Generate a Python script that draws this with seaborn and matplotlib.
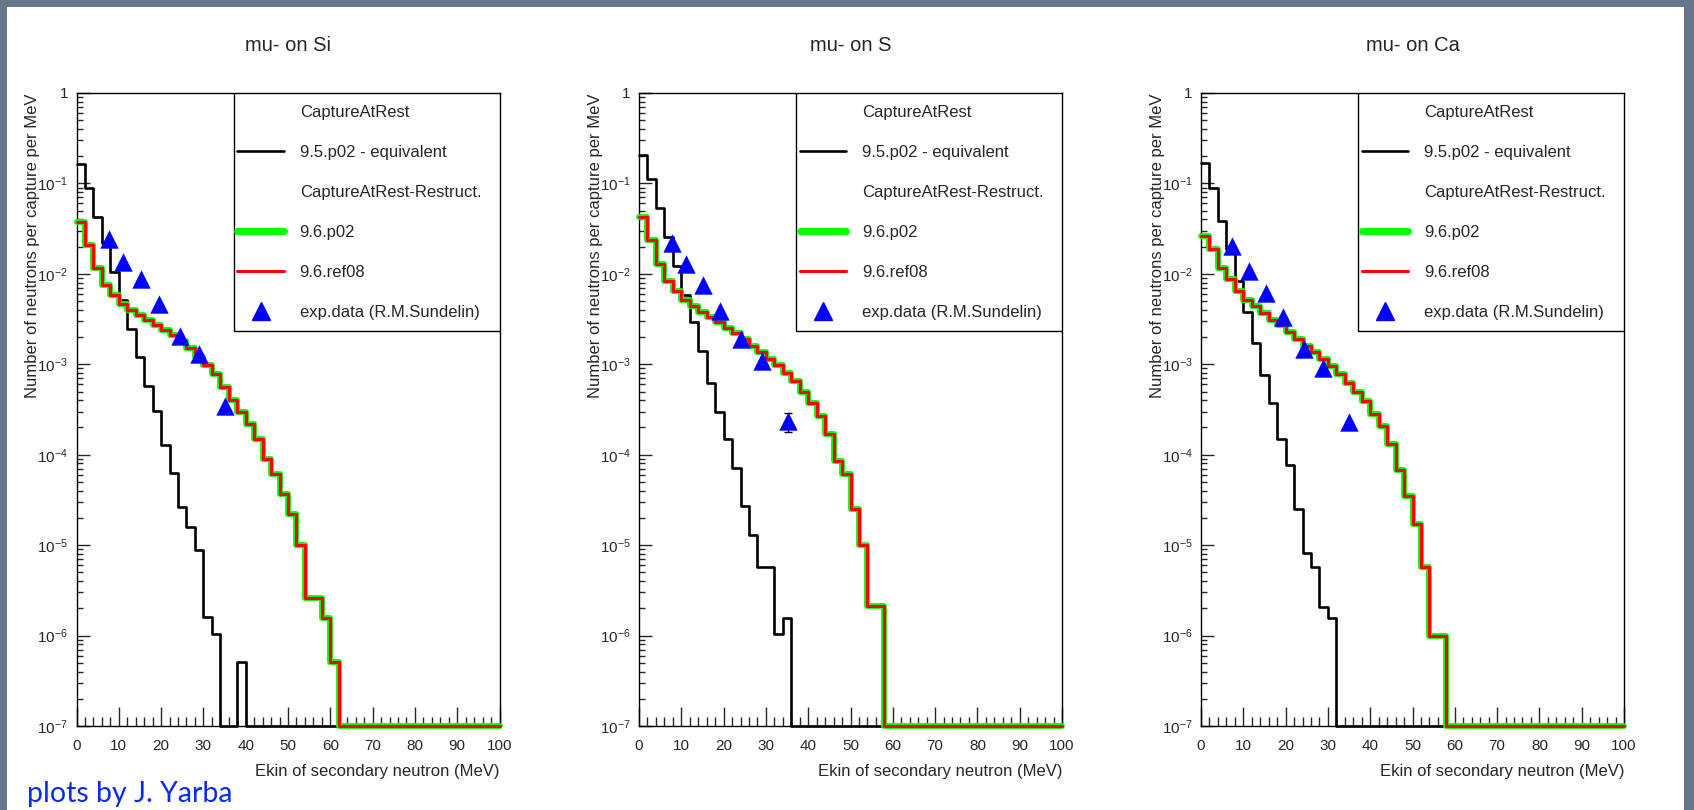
import numpy as np
import seaborn as sns
import matplotlib.pyplot as plt
from matplotlib.lines import Line2D
from matplotlib.patches import Rectangle
from matplotlib.ticker import LogLocator, MultipleLocator, FuncFormatter, NullFormatter

#%% Data: neutron spectra, 2 MeV bins from 0 to 100 MeV (empty bins = 0)
bin_edges = np.arange(0, 102, 2)

si_old = [0.165, 0.089, 0.043, 0.022, 0.0104, 0.0052, 0.00243, 0.00119, 5.7e-4, 3.05e-4,
          1.28e-4, 6.2e-5, 2.65e-5, 1.58e-5, 8.8e-6, 1.6e-6, 1.03e-6, 0.0, 0.0, 5.1e-7] + [0.0] * 30
si_new = [0.037, 0.021, 0.0115, 0.0076, 0.0058, 0.0047, 0.0040, 0.0035, 0.0031, 0.0027,
          0.0024, 0.0021, 0.0018, 0.0015, 0.0012, 9.8e-4, 7.8e-4, 5.6e-4, 4.0e-4, 3.0e-4,
          2.2e-4, 1.5e-4, 9.0e-5, 6.1e-5, 3.7e-5, 2.2e-5, 1.0e-5, 2.6e-6, 2.6e-6, 1.55e-6,
          5.1e-7] + [0.0] * 19
si_ref = si_new  # 9.6.ref08 lies on top of 9.6.p02

s_old = [0.207, 0.112, 0.053, 0.0256, 0.0122, 0.0059, 0.0029, 0.0014, 6.2e-4, 2.95e-4,
         1.49e-4, 7.2e-5, 2.74e-5, 1.3e-5, 5.7e-6, 5.7e-6, 1.03e-6, 1.58e-6] + [0.0] * 32
s_new = [0.042, 0.0235, 0.013, 0.0084, 0.0064, 0.0052, 0.0044, 0.0038, 0.0033, 0.0029,
         0.0025, 0.0022, 0.0019, 0.0016, 0.00135, 0.00115, 9.7e-4, 8.0e-4, 6.5e-4, 5.0e-4,
         3.7e-4, 2.7e-4, 1.7e-4, 8.6e-5, 6.1e-5, 2.5e-5, 1.0e-5, 2.1e-6, 2.1e-6] + [0.0] * 21
s_ref = s_new

ca_old = [0.167, 0.089, 0.0387, 0.019, 0.0083, 0.0038, 0.0017, 7.6e-4, 3.7e-4, 1.5e-4,
          7.6e-5, 2.5e-5, 8.2e-6, 5.7e-6, 2.07e-6, 1.58e-6] + [0.0] * 34
ca_new = [0.026, 0.019, 0.0115, 0.0087, 0.0065, 0.0052, 0.0044, 0.0037, 0.0031, 0.0027,
          0.0023, 0.0019, 0.0016, 0.00135, 0.00114, 9.6e-4, 7.8e-4, 6.2e-4, 4.9e-4, 3.9e-4,
          2.85e-4, 2.1e-4, 1.3e-4, 6.7e-5, 3.5e-5, 1.7e-5, 5.7e-6, 1.0e-6, 1.0e-6] + [0.0] * 21
ca_ref = ca_new

# exp. data (R.M.Sundelin)
si_exp_x = [7.6, 11.0, 15.3, 19.4, 24.4, 29.0, 35.1]
si_exp_y = [0.024, 0.0135, 0.0087, 0.0046, 0.00205, 0.00129, 3.45e-4]
si_exp_err = [0, 0, 0, 0, 0, 0, 0]
s_exp_x = [7.7, 11.2, 15.2, 19.2, 24.2, 29.1, 35.2]
s_exp_y = [0.022, 0.0127, 0.0076, 0.0039, 0.0019, 0.0011, 2.35e-4]
s_exp_err = [0, 0, 0, 0, 0, 0, 0.55e-4]
ca_exp_x = [7.4, 11.3, 15.4, 19.4, 24.3, 28.9, 35.0]
ca_exp_y = [0.0202, 0.0107, 0.0061, 0.0033, 0.00146, 9.2e-4, 2.3e-4]
ca_exp_err = [0, 0, 0, 0, 0, 0, 0]

titles = ["mu- on Si", "mu- on S", "mu- on Ca"]
y_min, y_max = 1e-7, 1.0

#%% Style
sns.set_style("white")
plt.rcParams["font.family"] = ["Liberation Sans", "DejaVu Sans"]
plt.rcParams["mathtext.default"] = "regular"

W, H = 1694, 810
fig = plt.figure(figsize=(W / 100, H / 100), dpi=100)
fig.patch.set_facecolor("#66758a")
fig.add_artist(Rectangle((7 / W, 0), (1684 - 7) / W, (H - 7) / H, transform=fig.transFigure,
                         facecolor="white", edgecolor="none", zorder=0))

panels = [
    (si_old, si_new, si_ref, si_exp_x, si_exp_y, si_exp_err),
    (s_old, s_new, s_ref, s_exp_x, s_exp_y, s_exp_err),
    (ca_old, ca_new, ca_ref, ca_exp_x, ca_exp_y, ca_exp_err),
]
lefts = [76.5, 639, 1201]
ax_w, ax_top, ax_bot = 423, 93, 726
leg_x0, leg_y0 = 0.372, 0.6247  # legend box, axes fraction


def draw_hist(ax, vals, color, lw, z):
    y = np.clip(np.asarray(vals, dtype=float), y_min, None)
    y = np.append(y, y[-1])
    sns.lineplot(x=bin_edges, y=y, drawstyle="steps-post", color=color, lw=lw,
                 estimator=None, ax=ax, zorder=z, clip_on=False, legend=False)


def log_label(v, pos):
    if v >= 1:
        return "1"
    return r"$10^{%d}$" % int(round(np.log10(v)))


for i, (old, new, ref, ex, ey, eerr) in enumerate(panels):
    ax = fig.add_axes([lefts[i] / W, (H - ax_bot) / H, ax_w / W, (ax_bot - ax_top) / H])
    ax.set_yscale("log")

    draw_hist(ax, old, "black", 1.9, 2)
    draw_hist(ax, new, "#00ff00", 4.2, 3)
    draw_hist(ax, ref, "#ff0000", 2.2, 4)
    ax.errorbar(ex, ey, yerr=eerr, fmt="none", ecolor="black", elinewidth=1, capsize=3, zorder=5)
    sns.scatterplot(x=ex, y=ey, marker="^", s=175, color="#0000ff", linewidth=0,
                     ax=ax, zorder=6, legend=False)

    ax.set_xlim(0, 100)
    ax.set_ylim(y_min, y_max)
    ax.set_xticks(np.arange(0, 101, 10))
    ax.xaxis.set_minor_locator(MultipleLocator(2))
    ax.set_yticks(10.0 ** np.arange(-7, 1))
    ax.yaxis.set_minor_locator(LogLocator(base=10, subs=np.arange(2, 10), numticks=12))
    ax.yaxis.set_major_formatter(FuncFormatter(log_label))
    ax.yaxis.set_minor_formatter(NullFormatter())
    ax.set_xlim(0, 100)
    ax.set_ylim(y_min, y_max)
    ax.tick_params(axis="x", which="major", direction="in", length=13.5, width=1,
                   labelsize=11, pad=9, bottom=True, top=False)
    ax.tick_params(axis="x", which="minor", direction="in", length=6.8, width=1,
                   bottom=True, top=False)
    ax.tick_params(axis="y", which="major", direction="in", length=9.5, width=1,
                   labelsize=11, pad=6, left=True, right=False)
    ax.tick_params(axis="y", which="minor", direction="in", length=4.5, width=1,
                   left=True, right=False)
    for sp in ax.spines.values():
        sp.set_color("black")
        sp.set_linewidth(1.0)
    ax.yaxis.label.set_visible(False)

    ax.set_xlabel("Ekin of secondary neutron (MeV)", fontsize=12, ha="right", va="top")
    ax.xaxis.set_label_coords(1.0, -0.06)
    # y label, aligned with the top of the frame
    fig.text((lefts[i] - 44) / W, 1 - ax_top / H, "Number of neutrons per capture per MeV",
             rotation=90, ha="center", va="top", fontsize=12)
    ax.text(0.5, 1.0 + (ax_top - 45) / (ax_bot - ax_top), titles[i], transform=ax.transAxes,
            ha="center", va="center", fontsize=14.5)

    # legend box (ROOT TLegend style)
    ax.add_patch(Rectangle((leg_x0, leg_y0), 1 - leg_x0, 1 - leg_y0, transform=ax.transAxes,
                           facecolor="white", edgecolor="black", lw=1.0, zorder=9))
    handles = [
        Line2D([], [], linestyle="none"),
        Line2D([], [], color="black", lw=1.9),
        Line2D([], [], linestyle="none"),
        Line2D([], [], color="#00ff00", lw=5),
        Line2D([], [], color="#ff0000", lw=2.2),
        Line2D([], [], linestyle="none", marker="^", markersize=13, color="#0000ff"),
    ]
    labels = ["CaptureAtRest", "9.5.p02 - equivalent", "CaptureAtRest-Restruct.",
              "9.6.p02", "9.6.ref08", "exp.data (R.M.Sundelin)"]
    leg = ax.legend(handles, labels, loc="upper left", bbox_to_anchor=(leg_x0, 0.987),
                    borderaxespad=0, fontsize=12, handlelength=2.8,
                    handletextpad=0.95, labelspacing=1.5, borderpad=0.2,
                    frameon=False)
    leg.set_zorder(10)

fig.text(27 / W, 1 - 794 / H, "plots by J. Yarba", fontsize=20.5, color="#0a2cf0",
         family=["Lato", "DejaVu Sans"], ha="left", va="center")

fig.savefig("out.png", dpi=100, facecolor=fig.get_facecolor())
